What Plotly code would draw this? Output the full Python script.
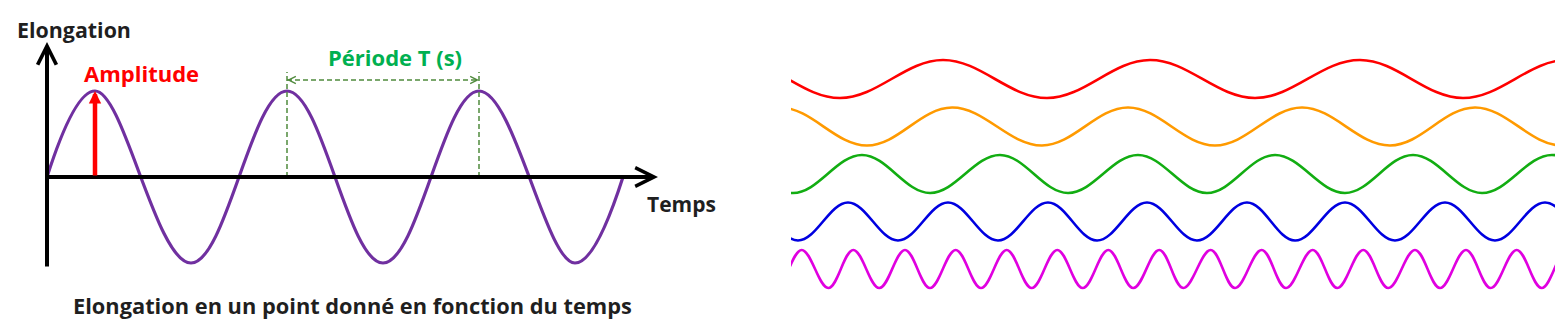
import plotly.graph_objects as go

# ---------------- data ----------------
# Left panel: elongation vs time (time in periods, elongation in amplitude units)
left_time = [0.0, 0.25, 0.75, 1.25, 1.75, 2.25, 2.75, 3.0]
left_elong = [0, 1, -1, 1, -1, 1, -1, 0]

# Right panel: five waves of increasing frequency (extrema positions, arbitrary time units;
# the visible window is 0..764, the outer extrema are just beyond the window)
red_t = [-159, -55, 49, 152, 256, 359, 464, 569, 672, 776, 880]
red_y = [-1, 1, -1, 1, -1, 1, -1, 1, -1, 1, -1]
orange_t = [-98, -11, 76, 161, 251, 337, 424, 511, 599, 684, 771, 858]
orange_y = [-1, 1, -1, 1, -1, 1, -1, 1, -1, 1, -1, 1]
green_t = [-67, 2, 71, 139, 209, 277, 347, 416, 484, 554, 622, 691, 761, 829]
green_y = [1, -1, 1, -1, 1, -1, 1, -1, 1, -1, 1, -1, 1, -1]
blue_t = [-93, -43, 7, 57, 107, 157, 207, 257, 306, 356, 406, 456, 504, 554, 604, 654,
          704, 754, 804, 854]
blue_y = [-1, 1] * 10
magenta_t = [-40.7, -15, 10.7, 37.3, 62.3, 88.3, 114, 139, 164.7, 190, 215.7, 240.7, 266.3,
             291.7, 317.3, 342.3, 368.3, 392.3, 419.7, 444, 470.7, 495, 521.7, 546.3,
             572.3, 597.3, 624, 649, 675, 699.7, 725.7, 750.7, 776, 801]
magenta_y = [1, -1] * 17

wave_names = ["rouge", "orange", "vert", "bleu", "magenta"]
wave_times = [red_t, orange_t, green_t, blue_t, magenta_t]
wave_values = [red_y, orange_y, green_y, blue_y, magenta_y]
wave_colors = ["#ff0000", "#ff9a00", "#12ad12", "#0000e0", "#e000e0"]
wave_offsets = [0, -2.5, -5, -7.5, -10]

# ---------------- layout helpers ----------------
W, H = 1562, 333


def px(x):
    return x / W


def py(y):
    return 1 - y / H


# left panel mapping: pixel x = 47 + 192 t, pixel y = 177 - 86 e
LX0, LXS, LY0, LYS = 47, 192, 177, 86
left_xrange = [(0 - LX0) / LXS, (720 - LX0) / LXS]
left_yrange = [(LY0 - H) / LYS, LY0 / LYS]
# right panel mapping: pixel y = 79 - 19 v
RY0, RYS = 79, 19
right_yrange = [(RY0 - H) / RYS, RY0 / RYS]

fig = go.Figure()

fig.add_trace(go.Scatter(
    x=left_time, y=left_elong, mode="lines",
    line=dict(color="#7030a0", width=3.2, shape="spline", smoothing=1.09),
    xaxis="x", yaxis="y", showlegend=False, hoverinfo="skip"))

for name, t, v, c, off in zip(wave_names, wave_times, wave_values, wave_colors, wave_offsets):
    fig.add_trace(go.Scatter(
        x=t, y=[off + val for val in v], mode="lines", name=name,
        line=dict(color=c, width=2.6, shape="spline", smoothing=1.09),
        xaxis="x2", yaxis="y2", showlegend=False, hoverinfo="skip"))

dark = "#1f1f1f"
font = "Open Sans"
anns = []
# axes arrows
anns.append(dict(x=0, y=(LY0 - 42) / LYS, ax=0, ay=(LY0 - 268) / LYS,
                 xref="x", yref="y", axref="x", ayref="y", text="", showarrow=True,
                 arrowhead=5, arrowwidth=4, arrowsize=0.92, arrowcolor="black"))
anns.append(dict(x=(658 - LX0) / LXS, y=0, ax=-0.01, ay=0,
                 xref="x", yref="y", axref="x", ayref="y", text="", showarrow=True,
                 arrowhead=5, arrowwidth=4, arrowsize=0.92, arrowcolor="black"))
# amplitude arrow
anns.append(dict(x=left_time[1], y=left_elong[1], ax=left_time[1], ay=0,
                 xref="x", yref="y", axref="x", ayref="y", text="", showarrow=True,
                 arrowhead=2, arrowwidth=4.5, arrowsize=0.55, arrowcolor="#ff0000"))
# period arrow heads
per_y = (LY0 - 80) / LYS
anns.append(dict(x=left_time[3], y=per_y, ax=left_time[3] + 0.025, ay=per_y,
                 xref="x", yref="y", axref="x", ayref="y", text="", showarrow=True,
                 arrowhead=5, arrowwidth=1.5, arrowsize=0.95, arrowcolor="#4f8a3c"))
anns.append(dict(x=left_time[5], y=per_y, ax=left_time[5] - 0.025, ay=per_y,
                 xref="x", yref="y", axref="x", ayref="y", text="", showarrow=True,
                 arrowhead=5, arrowwidth=1.5, arrowsize=0.95, arrowcolor="#4f8a3c"))


# texts
def txt(s, x, y, size, color):
    return dict(text="<b>%s</b>" % s, x=px(x), y=py(y), xref="paper", yref="paper",
                showarrow=False, xanchor="center", yanchor="middle",
                font=dict(family=font, size=size, color=color))


anns.append(txt("Elongation", 74, 29, 21.4, dark))
anns.append(txt("Amplitude", 141.5, 73, 22, "#ff0000"))
anns.append(txt("Période T (s)", 395, 57, 22, "#00b050"))
anns.append(txt("Temps", 681, 204, 21, dark))
anns.append(txt("Elongation en un point donné en fonction du temps", 352.5, 305, 21.8, dark))

shapes = []
per_top = (LY0 - 72) / LYS
for i in (3, 5):
    shapes.append(dict(type="line", xref="x", yref="y", x0=left_time[i], x1=left_time[i],
                       y0=0, y1=per_top, line=dict(color="#4f8a3c", width=1.5, dash="5px,3px")))
shapes.append(dict(type="line", xref="x", yref="y", x0=left_time[3], x1=left_time[5],
                   y0=per_y, y1=per_y, line=dict(color="#4f8a3c", width=1.5, dash="5px,3px")))

hidden = dict(visible=False, showgrid=False, zeroline=False, fixedrange=True)
fig.update_layout(
    width=W, height=H, autosize=False,
    margin=dict(l=0, r=0, t=0, b=0, pad=0),
    paper_bgcolor="white", plot_bgcolor="white",
    xaxis=dict(domain=[0, px(720)], range=left_xrange, **hidden),
    yaxis=dict(domain=[0, 1], range=left_yrange, **hidden),
    xaxis2=dict(domain=[px(791), px(1555)], range=[0, 764], anchor="y2", **hidden),
    yaxis2=dict(domain=[0, 1], range=right_yrange, anchor="x2", **hidden),
    annotations=anns, shapes=shapes,
)

fig.write_html("out.html", config={"displayModeBar": False})
